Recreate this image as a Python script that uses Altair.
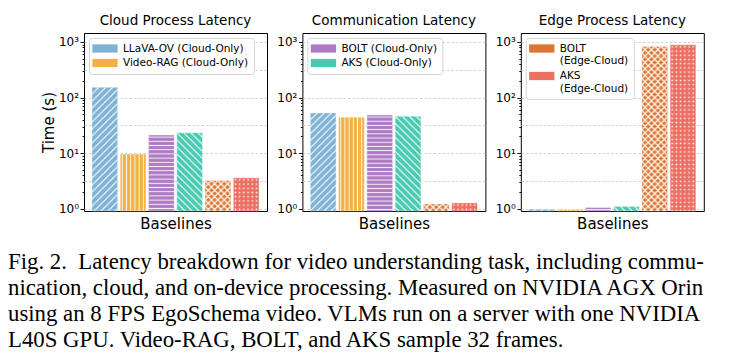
import altair as alt
import pandas as pd
from urllib.parse import quote

# ---------------- data ----------------
series = [
    "LLaVA-OV (Cloud-Only)",
    "Video-RAG (Cloud-Only)",
    "BOLT (Cloud-Only)",
    "AKS (Cloud-Only)",
    "BOLT (Edge-Cloud)",
    "AKS (Edge-Cloud)",
]
cloud_process = [154, 9.6, 21.2, 23.3, 3.2, 3.6]
communication = [53, 44.3, 48.7, 46.2, 1.22, 1.27]
edge_process = [0.98, 0.97, 1.05, 1.10, 830, 890]

panel_titles = ["Cloud Process Latency", "Communication Latency", "Edge Process Latency"]
legend_groups = [series[0:2], series[2:4], series[4:6]]

y_major = [1, 10, 100, 1000]
y_half = [3.1623, 31.623, 316.23]
y_minor = [2, 3, 4, 5, 6, 7, 8, 9, 20, 30, 40, 50, 60, 70, 80, 90,
           200, 300, 400, 500, 600, 700, 800, 900]

caption_lines = [
    "Fig. 2.\u00a0 Latency breakdown for video understanding task, including commu-",
    "nication, cloud, and on-device processing. Measured on NVIDIA AGX Orin",
    "using an 8 FPS EgoSchema video. VLMs run on a server with one NVIDIA",
    "L40S GPU. Video-RAG, BOLT, and AKS sample 32 frames.",
]

# ---------------- styles ----------------
colors = ["#7fb3d5", "#f5b041", "#af7ac5", "#48c9b0", "#dc7633", "#ec7063"]
Y_MIN, Y_MAX = 0.91, 1450


def pattern_uri(w, h, body):
    svg = (
        '<svg xmlns="http://www.w3.org/2000/svg">'
        f'<defs><pattern id="p" patternUnits="userSpaceOnUse" width="{w}" height="{h}">{body}</pattern></defs>'
        '<rect width="100%" height="100%" fill="url(#p)"/></svg>'
    )
    return "data:image/svg+xml," + quote(svg, safe="")


LN = 'stroke="white" stroke-opacity="0.9" fill="none"'
hatches = [
    pattern_uri(7, 7, f'<path d="M-1,1L1,-1M0,7L7,0M6,8L8,6" {LN} stroke-width="1.1"/>'),
    pattern_uri(4.2, 4.2, f'<path d="M2.1,-1V5.2" {LN} stroke-width="1"/>'),
    pattern_uri(4.2, 4.2, f'<path d="M-1,2.1H5.2" {LN} stroke-width="1"/>'),
    pattern_uri(7, 7, f'<path d="M-1,6L1,8M0,0L7,7M6,-1L8,1" {LN} stroke-width="1.1"/>'),
    pattern_uri(6.4, 6.4,
                f'<path d="M-1,1L1,-1M0,6.4L6.4,0M5.4,7.4L7.4,5.4M-1,5.4L1,7.4M0,0L6.4,6.4M5.4,-1L7.4,1" {LN} stroke-width="1.3"/>'),
    pattern_uri(4.2, 4.2, '<circle cx="2.1" cy="2.1" r="0.85" fill="white" fill-opacity="0.95"/>'),
]

MAJOR = "abs(log(datum.value)/LN10 - round(log(datum.value)/LN10)) < 0.01"
HALF = "abs(2*log(datum.value)/LN10 - round(2*log(datum.value)/LN10)) < 0.01"
HALF_ONLY = f"({HALF}) && !({MAJOR})"
LABELS = ("datum.value == 1 ? '10\u2070' : datum.value == 10 ? '10\u00b9' : "
          "datum.value == 100 ? '10\u00b2' : datum.value == 1000 ? '10\u00b3' : ''")

FONT = "DejaVu Sans"


def make_panel(i, values):
    df = pd.DataFrame({"series": series, "value": values})
    base = alt.Chart(df)

    x_enc = alt.X(
        "series:N",
        sort=series,
        scale=alt.Scale(paddingInner=0.09, paddingOuter=0.28),
        axis=alt.Axis(
            title="Baselines", labels=False, ticks=False, domain=False, grid=False,
            titleFont=FONT, titleFontSize=15, titleFontWeight="normal", titleColor="black",
            titlePadding=5,
        ),
    )
    y_axis = dict(
        values=y_major + y_half + y_minor,
        labelExpr=LABELS,
        labelFont=FONT, labelFontSize=12, labelColor="black", labelPadding=1.5,
        labelOverlap=False, labelFlush=False,
        tickSize={"condition": {"test": MAJOR, "value": 4}, "value": 2},
        tickOpacity={"condition": {"test": HALF_ONLY, "value": 0}, "value": 1},
        tickColor="black", tickWidth=0.9,
        grid=True,
        gridOpacity={"condition": {"test": HALF, "value": 1}, "value": 0},
        gridDash=[2.5, 2], gridColor="#c4c4c4", gridWidth=0.8,
        domain=False,
    )
    if i == 0:
        y_axis.update(title="Time (s)", titleFont=FONT, titleFontSize=15,
                      titleFontWeight="normal", titleColor="black", titlePadding=2)
    else:
        y_axis.update(title=None)
    y_enc = alt.Y(
        "value:Q",
        scale=alt.Scale(type="log", domain=[Y_MIN, Y_MAX], nice=False),
        axis=alt.Axis(**y_axis),
    )

    legend_kw = dict(
        values=legend_groups[i],
        orient="top-left", offset=5, padding=5,
        fillColor="white", strokeColor="#d5d5d5", cornerRadius=3,
        title=None,
        labelFont=FONT, labelFontSize=10.5, labelColor="black",
        symbolType="M-1.3,-0.75H3.3V0.75H-1.3Z", symbolSize=121,
        symbolStrokeWidth=0, labelOffset=18, rowPadding=3.5,
    )
    if i == 2:
        legend_kw["labelExpr"] = "[split(datum.label, ' ')[0], split(datum.label, ' ')[1]]"

    bars = base.mark_bar(stroke="white", strokeWidth=0.8, strokeOpacity=0.5).encode(
        x=x_enc,
        y=y_enc,
        y2=alt.datum(Y_MIN),
        color=alt.Color(
            "series:N",
            scale=alt.Scale(domain=series, range=colors),
            legend=alt.Legend(**legend_kw),
        ),
    )

    overlays = []
    for s, uri in zip(series, hatches):
        overlays.append(
            base.transform_filter(alt.datum.series == s)
            .mark_image(aspect=False)
            .encode(
                x=alt.X("series:N", sort=series),
                y=alt.Y("value:Q"),
                y2=alt.datum(Y_MIN),
                url=alt.value(uri),
            )
        )

    return alt.layer(bars, *overlays).properties(
        width=183,
        height=178,
        title=alt.Title(
            panel_titles[i], font=FONT, fontSize=13.5, fontWeight="normal",
            color="black", anchor="middle", offset=6,
        ),
    )


panels = [make_panel(0, cloud_process), make_panel(1, communication), make_panel(2, edge_process)]

chart = (
    alt.hconcat(*panels, spacing=35.4, bounds="flush")
    .resolve_legend(color="independent")
    .properties(
        title=alt.Title(
            caption_lines, orient="bottom", anchor="start", frame="group",
            font="Liberation Serif", fontSize=22.8, fontWeight="normal", color="black",
            lineHeight=26, baseline="top", offset=19, dx=-76,
        ),
        padding={"left": 8, "top": 13, "right": 30, "bottom": 2},
        background="white",
    )
    .configure_view(stroke="black", strokeWidth=1)
)

chart.save("out.html", embed_options={"renderer": "svg", "actions": False})
